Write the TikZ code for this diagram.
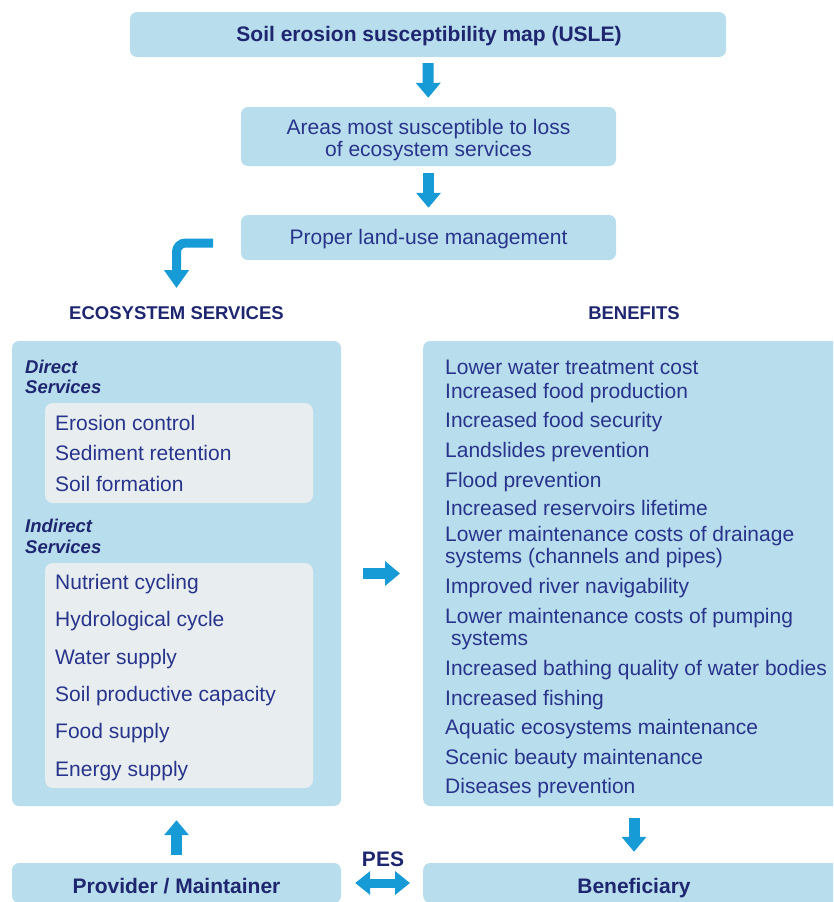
\documentclass[tikz,border=0pt]{standalone}
\usepackage{fontspec}
\setmainfont{Liberation Sans}
\usetikzlibrary{arrows.meta}

\definecolor{panel}{RGB}{184,221,236}
\definecolor{inner}{RGB}{232,238,240}
\definecolor{ink}{RGB}{40,52,140}
\definecolor{inkdark}{RGB}{30,38,112}
\definecolor{flow}{RGB}{22,155,215}

\tikzset{
  panelbox/.style={fill=panel, draw=none, rounded corners=7pt, inner sep=0pt},
  innerbox/.style={fill=inner, draw=none, rounded corners=8pt, inner sep=0pt},
  boldtext/.style={font=\bfseries\fontsize{21}{22}\selectfont, text=inkdark, anchor=base, inner sep=0pt},
  headtext/.style={font=\bfseries\fontsize{18.5}{20}\selectfont, text=inkdark, anchor=base, inner sep=0pt},
  grouptext/.style={font=\bfseries\itshape\fontsize{18.5}{20}\selectfont, text=inkdark, anchor=base west, inner sep=0pt},
  plaintext/.style={font=\fontsize{21}{22}\selectfont, text=ink, anchor=base, inner sep=0pt},
  itemtext/.style={font=\fontsize{21}{22}\selectfont, text=ink, anchor=base west, inner sep=0pt},
  flowarrow/.style={draw=flow, line width=11pt, -{Triangle[width=24pt,length=15pt]}},
  bentarrow/.style={draw=flow, line width=9pt, rounded corners=9pt, -{Triangle[width=24pt,length=18pt]}},
  twoway/.style={draw=flow, line width=9pt, {Triangle[width=23pt,length=15pt]}-{Triangle[width=23pt,length=15pt]}},
}

\begin{document}
\begin{tikzpicture}[x=1pt, y=-1pt]
  \useasboundingbox (0,0) rectangle (833,902);
  \clip (0,0) rectangle (833,902);

  % top chain of boxes
  \node[panelbox, minimum width=596pt, minimum height=45pt] (usle) at (428,34.5) {};
  \node[boldtext] (usletext) at (429,41.8) {Soil erosion susceptibility map (USLE)};

  \node[panelbox, minimum width=375pt, minimum height=59pt] (areas) at (428.5,136.5) {};
  \node[plaintext] (areas1) at (428.5,134.5) {Areas most susceptible to loss};
  \node[plaintext] (areas2) at (428.5,156.5) {of ecosystem services};

  \node[panelbox, minimum width=375pt, minimum height=45pt] (landuse) at (428.5,237.5) {};
  \node[plaintext] (landusetext) at (428.5,244.5) {Proper land-use management};

  \draw[flowarrow, shorten <=6pt, shorten >=9pt] (usle) -- (areas);
  \draw[flowarrow, shorten <=7pt, shorten >=7pt] (areas) -- (landuse);

  \coordinate (bendstart) at (213,243);
  \coordinate (bendend) at (176.5,288);
  \draw[bentarrow] (bendstart) -| (bendend);

  % column headings
  \node[headtext] (eshead) at (176.5,319.5) {ECOSYSTEM SERVICES};
  \node[headtext] (benhead) at (634,319.5) {BENEFITS};

  % ecosystem services panel
  \node[panelbox, minimum width=329pt, minimum height=465pt] (svc) at (176.5,573.5) {};
  \node[grouptext] (direct1) at (25,373.5) {Direct};
  \node[grouptext] (direct2) at (25,393.5) {Services};
  \node[innerbox, minimum width=268pt, minimum height=100pt] (direct) at (179,453) {};
  \node[itemtext] (d1) at (55,430.5) {Erosion control};
  \node[itemtext] (d2) at (55,460.5) {Sediment retention};
  \node[itemtext] (d3) at (55,491.5) {Soil formation};

  \node[grouptext] (indirect1) at (25,532.5) {Indirect};
  \node[grouptext] (indirect2) at (25,553.5) {Services};
  \node[innerbox, minimum width=268pt, minimum height=225pt] (indirect) at (179,675.5) {};
  \foreach \yy/\txt [count=\i] in {589.5/Nutrient cycling, 626.5/Hydrological cycle,
      664.5/Water supply, 701.5/Soil productive capacity, 738.5/Food supply,
      776.5/Energy supply}
    \node[itemtext] (ind\i) at (55,\yy) {\txt};

  % benefits panel
  \node[panelbox, minimum width=440pt, minimum height=465pt, anchor=west] (ben) at (423,573.5) {};
  \foreach \xx/\yy/\txt [count=\i] in {
      445/374.5/Lower water treatment cost,
      445/398.5/Increased food production,
      445/427.5/Increased food security,
      445/457.5/Landslides prevention,
      445/487.5/Flood prevention,
      445/515.5/Increased reservoirs lifetime,
      445/541.5/Lower maintenance costs of drainage,
      445/563.5/systems (channels and pipes),
      445/593.5/Improved river navigability,
      445/623.5/Lower maintenance costs of pumping,
      451/645.5/systems,
      445/675.5/Increased bathing quality of water bodies,
      445/705.5/Increased fishing,
      445/734.5/Aquatic ecosystems maintenance,
      445/764.5/Scenic beauty maintenance,
      445/793.5/Diseases prevention}
    \node[itemtext] (b\i) at (\xx,\yy) {\txt};

  \draw[flowarrow, shorten <=22pt, shorten >=23pt] (svc.east) -- (ben.west);

  % provider and beneficiary
  \node[panelbox, minimum width=329pt, minimum height=40pt] (prov) at (176.5,883) {};
  \node[boldtext] (provtext) at (176.5,893.5) {Provider / Maintainer};
  \node[panelbox, minimum width=440pt, minimum height=40pt, anchor=west] (benef) at (423,883) {};
  \node[boldtext] (beneftext) at (634,893.5) {Beneficiary};

  \draw[flowarrow, shorten <=8pt, shorten >=14pt] (prov.north) -- (svc.south);
  \draw[flowarrow, shorten <=12pt, shorten >=11pt] (ben.south -| beneftext) -- (benef.north -| beneftext);
  \draw[twoway, shorten <=14pt, shorten >=13pt] (prov.east) -- (benef.west);
  \node[boldtext] (pes) at (383,866) {PES};
\end{tikzpicture}
\end{document}
